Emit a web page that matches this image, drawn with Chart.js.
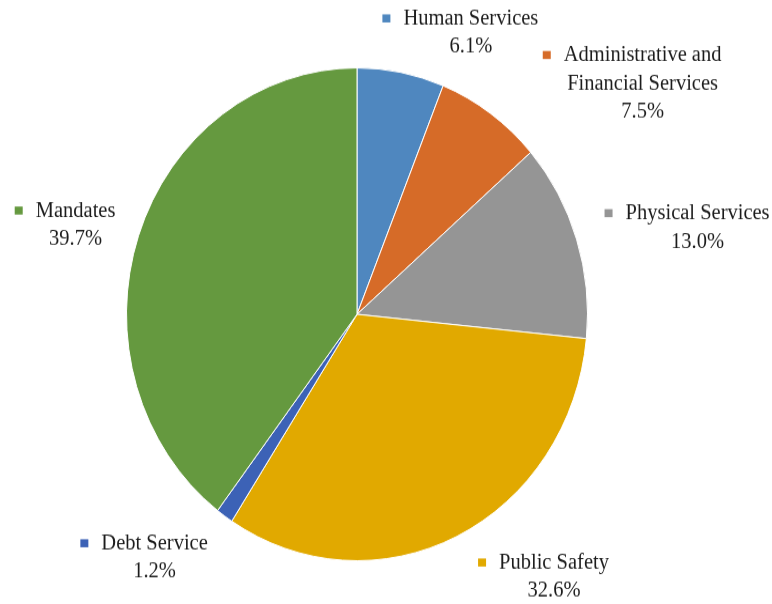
<!DOCTYPE html>
<html>
<head>
<meta charset="utf-8">
<title>General Fund Expenditures</title>
<script src="https://cdn.jsdelivr.net/npm/chart.js@4/dist/chart.umd.min.js"></script>
<style>
  html, body { margin: 0; padding: 0; background: #fff; }
  body { width: 772px; height: 604px; }
  #wrap { width: 772px; transform: scaleY(1.069); transform-origin: 0 0; }
</style>
</head>
<body>
<div id="wrap"><canvas id="chart" width="772" height="565"></canvas></div>
<script>
const categories = [
    'Human Services',
    ['Administrative and', 'Financial Services'],
    'Physical Services',
    'Public Safety',
    'Debt Service',
    'Mandates'
];
const shares = [6.1, 7.5, 13.0, 32.6, 1.2, 39.7];
const colors = ['#4f87bf', '#d66b28', '#959595', '#e1a900', '#3c62b6', '#65993f'];

// where each label block sits, relative to the outer edge of its slice
const labelOffsets = [[70, -37], [152, -28], [121, -11], [97, 38], [-70, 39], [-63, -10]];

const FONT = '20.5px "Liberation Serif", "DejaVu Serif", serif';
const LINE_H = 26.5;

const outsideLabels = {
    id: 'outsideLabels',
    afterDatasetsDraw(chart) {
        const ctx = chart.ctx;
        const meta = chart.getDatasetMeta(0);
        ctx.save();
        ctx.font = FONT;
        ctx.fillStyle = '#1c1c1c';
        ctx.textAlign = 'center';
        ctx.textBaseline = 'middle';
        meta.data.forEach((arc, i) => {
            const p = arc.getProps(['x', 'y', 'startAngle', 'endAngle', 'outerRadius'], true);
            const mid = (p.startAngle + p.endAngle) / 2;
            const cx = p.x + Math.cos(mid) * p.outerRadius + labelOffsets[i][0];
            const cy = p.y + Math.sin(mid) * p.outerRadius + labelOffsets[i][1];
            const name = [].concat(chart.data.labels[i]);
            const lines = name.concat([shares[i].toFixed(1) + '%']);
            const top = cy - (lines.length - 1) * LINE_H / 2;
            lines.forEach((t, k) => ctx.fillText(t, cx, top + k * LINE_H));
            // colour key before the first line
            const w = ctx.measureText(lines[0]).width;
            ctx.fillStyle = colors[i];
            ctx.fillRect(cx - w / 2 - 21, top - 4, 8, 7.5);
            ctx.fillStyle = '#1c1c1c';
        });
        ctx.restore();
    }
};

new Chart(document.getElementById('chart'), {
    type: 'pie',
    data: {
        labels: categories,
        datasets: [{
            data: shares,
            backgroundColor: colors,
            borderColor: '#ffffff',
            borderWidth: 1
        }]
    },
    options: {
        responsive: false,
        animation: false,
        layout: { padding: { left: 126, right: 184, top: 63, bottom: 40 } },
        plugins: {
            legend: { display: false },
            tooltip: { enabled: false }
        }
    },
    plugins: [outsideLabels]
});
</script>
</body>
</html>
